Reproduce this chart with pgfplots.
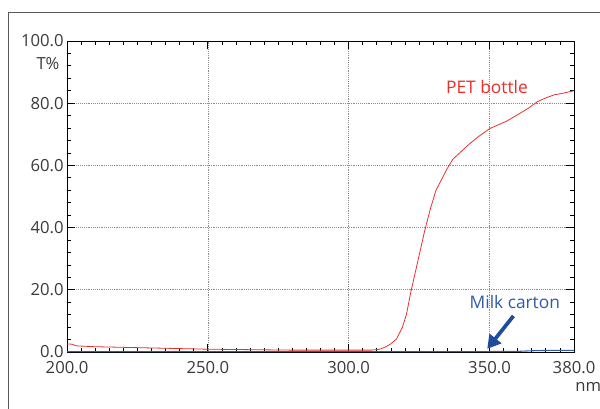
\documentclass[border=0pt]{standalone}
\usepackage{pgfplots}
\pgfplotsset{compat=1.18}
\usepackage{fontspec}
\setmainfont{Open Sans}
\usetikzlibrary{arrows.meta}
\definecolor{txt}{HTML}{3A3A3A}
\definecolor{petred}{HTML}{E8302A}
\definecolor{milkblue}{HTML}{2F5BAA}
\definecolor{arrowblue}{HTML}{1F4C9C}
\begin{document}
\begin{tikzpicture}
\draw[gray!70!black, line width=0.6pt] (6pt,-10pt) -- (6pt,297pt) -- (460pt,297pt);
\begin{axis}[
  at={(50.25pt,42pt)}, anchor=south west,
  scale only axis, width=380.25pt, height=233.25pt,
  xmin=200, xmax=380, ymin=0, ymax=100,
  xtick={200,250,300,350,380},
  xticklabels={200.0,250.0,300.0,350.0,380.0},
  ytick={0,20,40,60,80,100},
  yticklabels={0.0,20.0,40.0,60.0,80.0,100.0},
  minor xtick={205,210,...,375},
  minor ytick={4,8,...,96},
  tick align=inside,
  major tick length=6pt, minor tick length=3pt,
  tick style={black, line width=0.6pt},
  axis line style={black, line width=0.7pt},
  xmajorgrids, ymajorgrids,
  major grid style={gray!90, densely dotted, line width=0.5pt},
  ticklabel style={font=\fontsize{12.5}{14}\selectfont, text=txt},
  xticklabel style={yshift=-3.5pt},
  yticklabel style={xshift=1pt},
  clip=false,
]
\addplot[petred, line width=0.6pt] coordinates {
(200,2.6)(202,2.5)(203,2.0)(205,1.9)(210,1.7)(220,1.5)(230,1.3)(240,1.1)
(250,0.9)(260,0.8)(270,0.7)(280,0.6)(290,0.6)(300,0.6)(308,0.6)(311,0.9)
(313,1.6)(315,2.6)(317,4.2)(319,7.8)(320.5,12)(322,19)(323.5,25)(325,31)
(327,39)(329,46)(331,52)(333,55.5)(335,59)(337,62)(340,64.5)(343,67)
(346,69.2)(350,71.8)(353,73)(356,74.2)(360,76.3)(364,78.5)(367,80.5)
(370,81.7)(373,82.7)(376,83.2)(380,84)
};
\addplot[milkblue, line width=0.8pt] coordinates {
(200,0.15)(250,0.15)(300,0.15)(350,0.15)(360,0.2)(365,0.4)(370,0.5)(375,0.5)(380,0.5)
};
\node[text=petred, font=\fontsize{13}{15}\selectfont] at (axis cs:349.1,85.2) {PET bottle};
\node[text=milkblue, font=\fontsize{13}{15}\selectfont] at (axis cs:359,16.2) {Milk carton};
\draw[arrowblue, line width=2.8pt, -{Triangle[length=10pt,width=11pt]}] (axis cs:358.5,11.6) -- (axis cs:349.2,1.0);
\node[text=txt, font=\fontsize{12.5}{14}\selectfont] at (rel axis cs:-0.0375,0.929) {T\%};
\node[text=txt, font=\fontsize{12.5}{14}\selectfont] at (rel axis cs:1.028,-0.112) {nm};
\end{axis}
\pgfresetboundingbox
\path[use as bounding box] (0pt,0pt) rectangle (450pt,306pt);
\end{tikzpicture}
\end{document}
